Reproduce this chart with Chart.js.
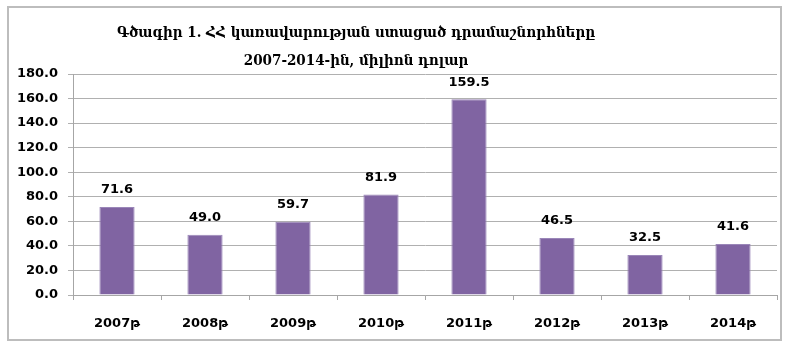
<!DOCTYPE html>
<html>
<head>
<meta charset="utf-8">
<script src="https://cdn.jsdelivr.net/npm/chart.js@4.4.1/dist/chart.umd.min.js"></script>
<style>
html,body{margin:0;padding:0;background:#fff;}
canvas{display:block;}
</style>
</head>
<body>
<canvas id="c" width="789" height="351" style="width:789px;height:351px"></canvas>
<script>
const categories = ["2007թ", "2008թ", "2009թ", "2010թ", "2011թ", "2012թ", "2013թ", "2014թ"];
const grants = [71.6, 49.0, 59.7, 81.9, 159.5, 46.5, 32.5, 41.6];
const titleLines = ["Գծագիր 1. ՀՀ կառավարության ստացած դրամաշնորհները", "2007-2014-ին, միլիոն դոլար"];
const yTicks = [0, 20, 40, 60, 80, 100, 120, 140, 160, 180];

const frameAndTitle = {
  id: 'frameAndTitle',
  beforeDraw(chart) {
    const ctx = chart.ctx;
    ctx.save();
    ctx.fillStyle = '#fff';
    ctx.fillRect(0, 0, chart.width, chart.height);
    ctx.strokeStyle = '#bdbdbd';
    ctx.lineWidth = 2;
    ctx.strokeRect(8, 7, 773, 333);
    ctx.restore();
  },
  afterDraw(chart) {
    const ctx = chart.ctx;
    ctx.save();
    ctx.fillStyle = '#000';
    ctx.textAlign = 'center';
    ctx.textBaseline = 'middle';
    ctx.font = 'bold 15px "DejaVu Serif Condensed", "DejaVu Serif", serif';
    ctx.fillText(titleLines[0], 356, 33);
    ctx.fillText(titleLines[1], 356, 61);
    // value labels
    ctx.font = 'bold 13px "DejaVu Sans", sans-serif';
    const meta = chart.getDatasetMeta(0);
    meta.data.forEach((bar, i) => {
      ctx.fillText(grants[i].toFixed(1), bar.x, bar.y - 17);
    });
    ctx.restore();
  }
};

new Chart(document.getElementById('c'), {
  type: 'bar',
  data: {
    labels: categories,
    datasets: [{
      data: grants,
      backgroundColor: '#8064a2',
      borderColor: '#9a86b8',
      borderWidth: 1,
      barPercentage: 0.4,
      categoryPercentage: 1.0
    }]
  },
  options: {
    responsive: false,
    devicePixelRatio: 1,
    animation: false,
    layout: { padding: { top: 74, right: 12, left: 0, bottom: 0 } },
    plugins: { legend: { display: false }, tooltip: { enabled: false }, title: { display: false } },
    scales: {
      x: {
        grid: { display: true, drawOnChartArea: false, offset: true, tickLength: 5, color: '#a6a6a6' },
        border: { color: '#a6a6a6' },
        ticks: { color: '#000', padding: 16, font: { family: '"DejaVu Sans", sans-serif', weight: 'bold', size: 13 } },
        afterFit(s) { s.height = 56; }
      },
      y: {
        min: 0, max: 180,
        afterBuildTicks(s) { s.ticks = yTicks.map(v => ({ value: v })); },
        grid: { color: '#b0b0b0', tickLength: 5 },
        border: { color: '#a6a6a6' },
        ticks: { color: '#000', padding: 10, font: { family: '"DejaVu Sans", sans-serif', weight: 'bold', size: 13 },
                 callback: v => Number(v).toFixed(1) },
        afterFit(s) { s.width = 73; }
      }
    }
  },
  plugins: [frameAndTitle]
});
</script>
</body>
</html>
